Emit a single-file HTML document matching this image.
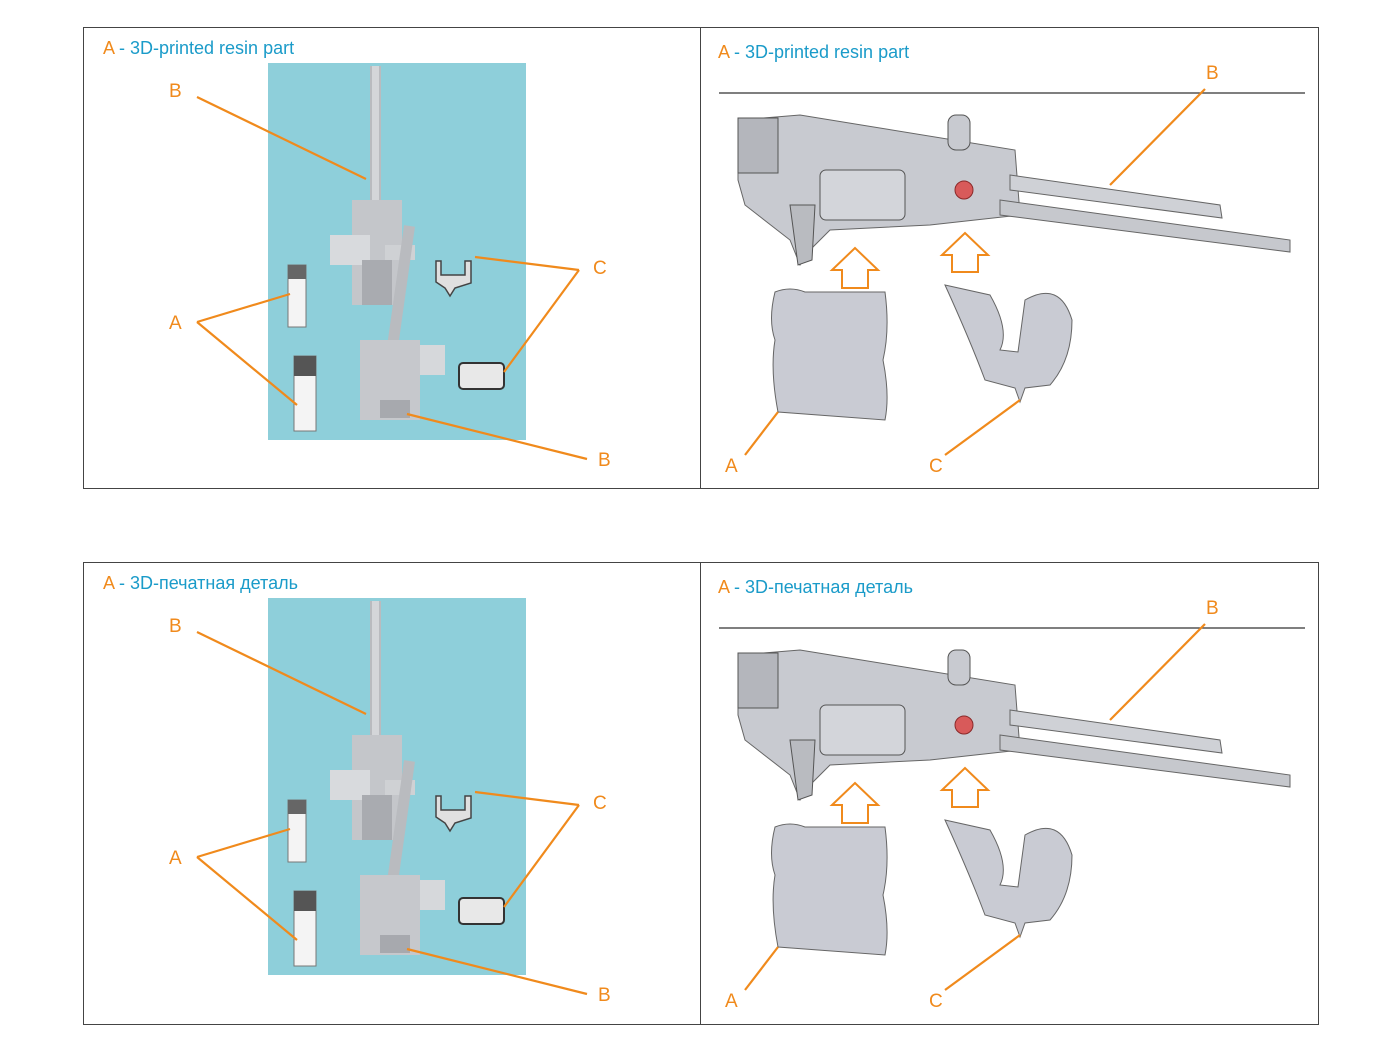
<!DOCTYPE html>
<html><head><meta charset="utf-8"><style>
html,body{margin:0;padding:0;background:#fff;}
svg{display:block;}
text{font-family:"Liberation Sans","Noto Sans CJK SC",sans-serif;}
</style></head><body>
<svg width="1400" height="1050" viewBox="0 0 1400 1050" xmlns="http://www.w3.org/2000/svg">
<defs>
<g id="left">
  <rect x="268" y="63" width="258" height="377" fill="#8ecfda"/>
  <!-- gun 1 -->
  <rect x="370" y="66" width="11" height="150" fill="#b9bbbf"/>
  <rect x="372" y="66" width="7" height="150" fill="#d4d6d9"/>
  <rect x="352" y="200" width="50" height="105" fill="#c4c6ca"/>
  <rect x="330" y="235" width="40" height="30" fill="#d8dadd"/>
  <rect x="385" y="245" width="30" height="15" fill="#cfd1d4"/>
  <rect x="362" y="260" width="30" height="45" fill="#a9abb0"/>
  <!-- gun 2 -->
  <rect x="404" y="226" width="11" height="120" fill="#b9bbbf" transform="rotate(8 410 226)"/>
  <rect x="360" y="340" width="60" height="80" fill="#c6c8cc"/>
  <rect x="420" y="345" width="25" height="30" fill="#d6d8db"/>
  <rect x="380" y="400" width="30" height="18" fill="#a7a9ae"/>
  <!-- A blocks -->
  <rect x="288" y="265" width="18" height="62" fill="#f4f4f4" stroke="#777" stroke-width="1"/>
  <rect x="288" y="265" width="18" height="14" fill="#666"/>
  <rect x="294" y="356" width="22" height="75" fill="#f4f4f4" stroke="#777" stroke-width="1"/>
  <rect x="294" y="356" width="22" height="20" fill="#555"/>
  <!-- C parts -->
  <path d="M436 261 L441 261 L441 275 L465 275 L465 261 L471 261 L471 283 L455 288 L450 296 L445 288 L436 282 Z" fill="#e0e0e0" stroke="#444" stroke-width="1.5"/>
  <rect x="459" y="363" width="45" height="26" rx="4" fill="#e8e8e8" stroke="#333" stroke-width="2"/>
  <!-- leaders -->
  <g stroke="#f08a1c" stroke-width="2.2" fill="none">
    <line x1="197" y1="97" x2="366" y2="179"/>
    <line x1="579" y1="270" x2="475" y2="257"/>
    <line x1="579" y1="270" x2="504" y2="372"/>
    <line x1="197" y1="322" x2="290" y2="294"/>
    <line x1="197" y1="322" x2="297" y2="405"/>
    <line x1="407" y1="414" x2="587" y2="459"/>
  </g>
  <g fill="#f08a1c" font-size="19">
    <text x="169" y="97">B</text>
    <text x="593" y="274">C</text>
    <text x="169" y="329">A</text>
    <text x="598" y="466">B</text>
  </g>
</g>
<g id="right">
  <line x1="719" y1="93" x2="1305" y2="93" stroke="#333" stroke-width="1.2"/>
  <!-- receiver -->
  <path d="M738 120 L800 115 L1015 150 L1020 215 L930 225 L830 230 L810 250 L800 265 L790 240 L745 205 L738 180 Z" fill="#c8cad0" stroke="#666" stroke-width="1"/>
  <rect x="738" y="118" width="40" height="55" fill="#b4b6bc" stroke="#555"/>
  <rect x="820" y="170" width="85" height="50" rx="6" fill="#d3d5da" stroke="#555"/>
  <rect x="948" y="115" width="22" height="35" rx="8" fill="#c8cad0" stroke="#555"/>
  <circle cx="964" cy="190" r="9" fill="#d85a5a" stroke="#8a2a2a"/>
  <path d="M790 205 L815 205 L812 260 L798 265 Z" fill="#b9bbc0" stroke="#555"/>
  <!-- barrels -->
  <path d="M1010 175 L1220 205 L1222 218 L1010 190 Z" fill="#cfd1d6" stroke="#666"/>
  <path d="M1000 200 L1290 240 L1290 252 L1000 215 Z" fill="#c6c8cd" stroke="#666"/>
  <!-- arrows -->
  <path d="M842 270 L842 288 L868 288 L868 270 L878 270 L855 248 L832 270 Z" fill="#fff" stroke="#f08a1c" stroke-width="2"/>
  <path d="M952 255 L952 272 L978 272 L978 255 L988 255 L965 233 L942 255 Z" fill="#fff" stroke="#f08a1c" stroke-width="2"/>
  <!-- magazine A -->
  <path d="M775 292 Q790 286 805 292 L885 292 Q890 330 883 360 Q890 395 885 420 L778 412 Q770 370 775 340 Q768 320 775 292 Z" fill="#c9cbd3" stroke="#666"/>
  <!-- bracket C -->
  <path d="M945 285 L990 295 Q1010 330 1000 350 L1018 352 L1025 300 Q1060 280 1072 320 Q1072 360 1050 385 L1025 388 L1020 402 L1015 388 L985 380 Q970 340 945 285 Z" fill="#c9cbd3" stroke="#666"/>
  <g stroke="#f08a1c" stroke-width="2.2" fill="none">
    <line x1="1205" y1="89" x2="1110" y2="185"/>
    <line x1="745" y1="455" x2="778" y2="412"/>
    <line x1="945" y1="455" x2="1020" y2="400"/>
  </g>
  <g fill="#f08a1c" font-size="19">
    <text x="1206" y="79">B</text>
    <text x="725" y="472">A</text>
    <text x="929" y="472">C</text>
  </g>
</g>
</defs>

<!-- top -->
<rect x="83.5" y="27.5" width="1235" height="461" fill="#fff" stroke="#444" stroke-width="1"/>
<line x1="700.5" y1="27" x2="700.5" y2="489" stroke="#444" stroke-width="1"/>
<use href="#left"/>
<use href="#right"/>
<text x="103" y="54" font-size="18"><tspan fill="#f08a1c">A</tspan><tspan fill="#1a9bc9"> - 3D-printed resin part</tspan></text>
<text x="718" y="58" font-size="18"><tspan fill="#f08a1c">A</tspan><tspan fill="#1a9bc9"> - 3D-printed resin part</tspan></text>

<!-- bottom -->
<rect x="83.5" y="562.5" width="1235" height="462" fill="#fff" stroke="#444" stroke-width="1"/>
<line x1="700.5" y1="562" x2="700.5" y2="1025" stroke="#444" stroke-width="1"/>
<g transform="translate(0,535)">
<use href="#left"/>
<use href="#right"/>
</g>
<text x="103" y="589" font-size="18"><tspan fill="#f08a1c">A</tspan><tspan fill="#1a9bc9"> - 3D-печатная деталь</tspan></text>
<text x="718" y="593" font-size="18"><tspan fill="#f08a1c">A</tspan><tspan fill="#1a9bc9"> - 3D-печатная деталь</tspan></text>
</svg>
</body></html>
